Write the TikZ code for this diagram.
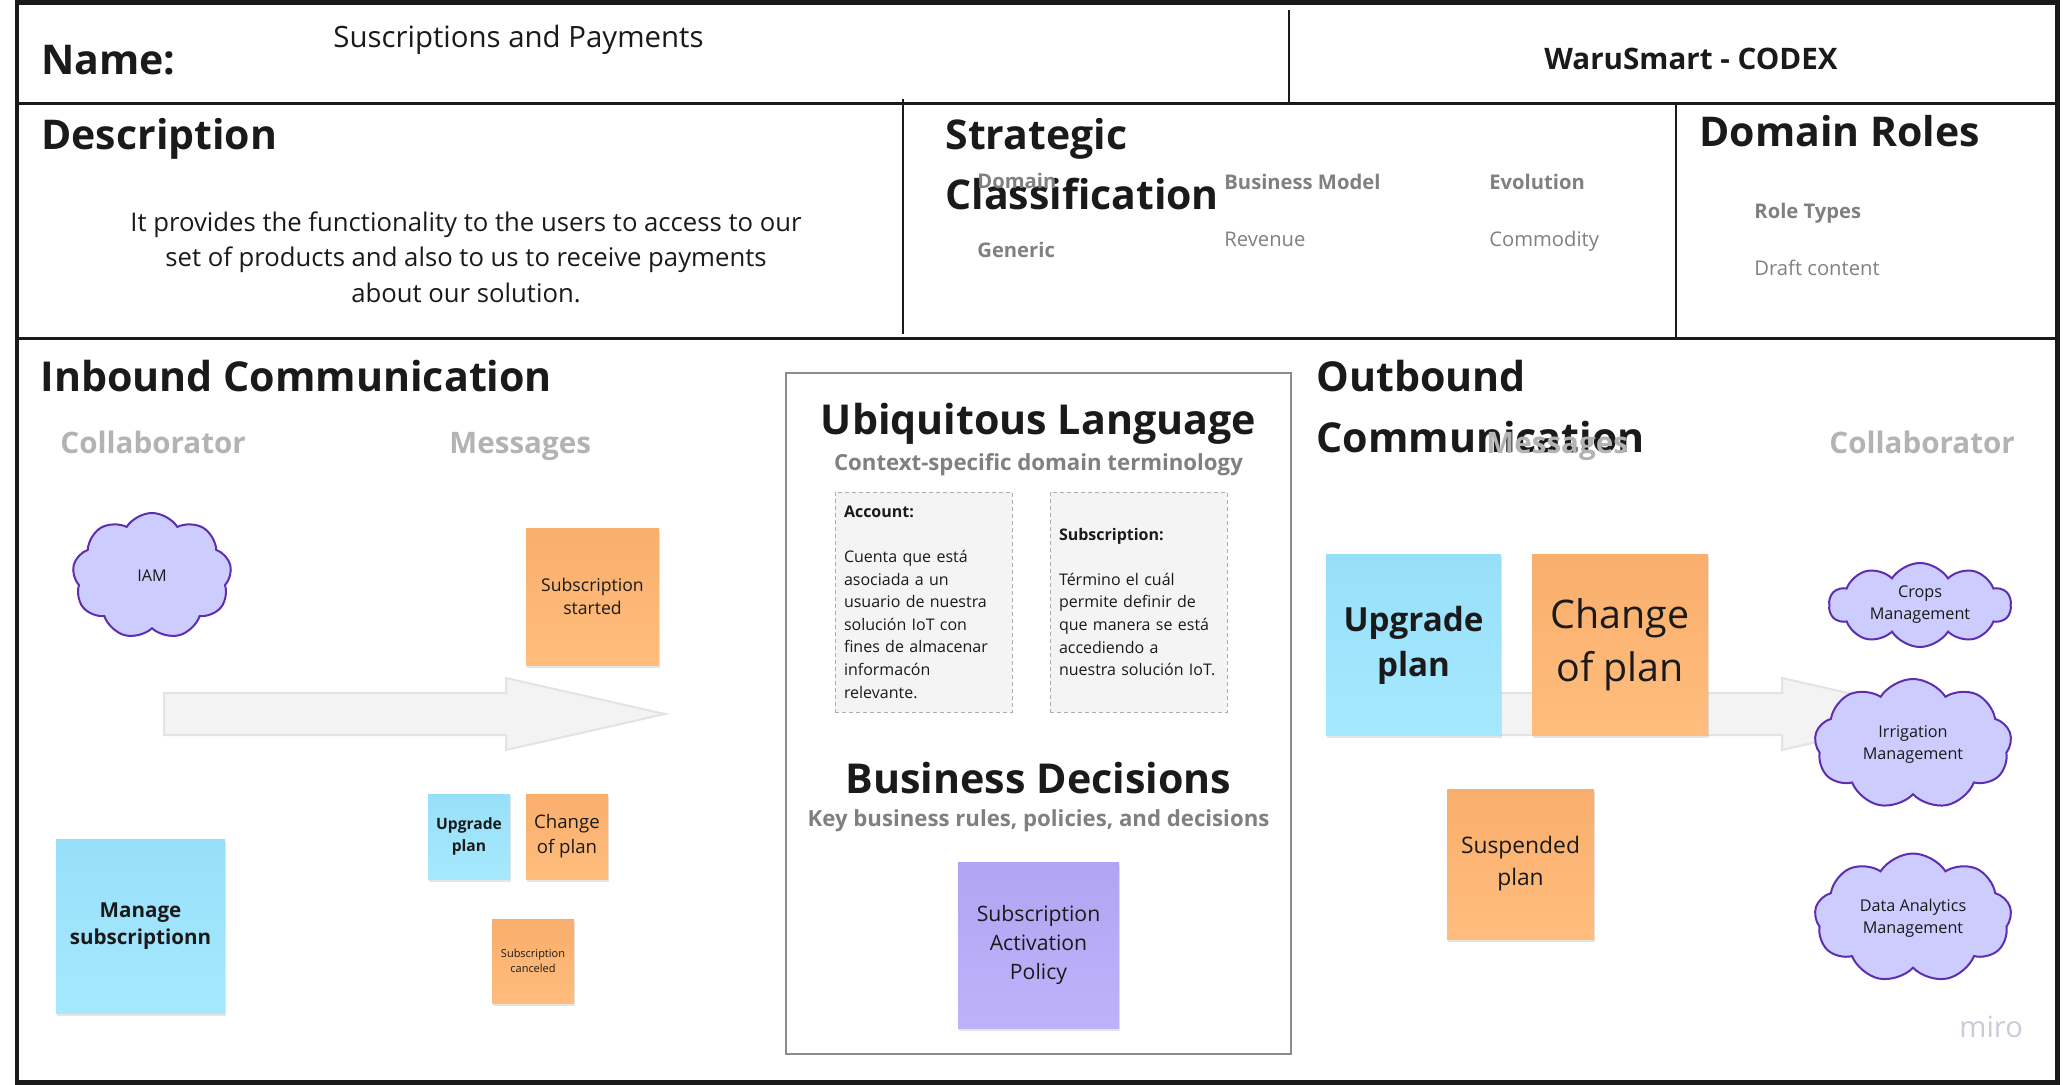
\documentclass[tikz,border=0pt]{standalone}
\usepackage{fontspec}
\setmainfont{Open Sans}
\usepackage{xcolor}
\usetikzlibrary{shapes.symbols, positioning, shadows}

\definecolor{inkdark}{HTML}{1A1A1A}
\definecolor{labelgrey}{HTML}{808080}
\definecolor{softgrey}{HTML}{B3B3B3}
\definecolor{boxgrey}{HTML}{8C8C8C}
\definecolor{orangetop}{HTML}{F9AE6C}
\definecolor{orangebot}{HTML}{FFBD7D}
\definecolor{bluetop}{HTML}{97DFF9}
\definecolor{bluebot}{HTML}{A6E9FE}
\definecolor{purpletop}{HTML}{B1A4F2}
\definecolor{purplebot}{HTML}{BDB3FA}
\definecolor{cloudfill}{HTML}{CCCCFF}
\definecolor{cloudline}{HTML}{5E2EB1}
\definecolor{arrowfill}{HTML}{F3F3F3}
\definecolor{arrowline}{HTML}{E3E3E3}
\definecolor{termfill}{HTML}{F4F4F4}
\definecolor{termline}{HTML}{ADADAD}
\definecolor{mirogrey}{HTML}{CBCAD6}

\newcommand{\fsz}[2]{\fontsize{#1}{#2}\selectfont}

\begin{document}
\begin{tikzpicture}[x=0.5pt, y=-0.5pt,
        every node/.style={inner sep=0pt, text=inkdark},
        heading/.style={font=\bfseries\fsz{20.5pt}{24pt}},
        bigheading/.style={font=\bfseries\fsz{20.6pt}{25pt}},
        smallbold/.style={font=\bfseries\fsz{10.1pt}{12pt}, text=labelgrey},
        smallreg/.style={font=\fsz{10.1pt}{12pt}, text=labelgrey},
        column/.style={font=\bfseries\fsz{14.8pt}{18pt}, text=softgrey},
        subtitle/.style={font=\bfseries\fsz{11.1pt}{13pt}, text=labelgrey},
        sticky/.style={rectangle, align=center, drop shadow={shadow xshift=0.4pt, shadow yshift=-1.4pt, fill=black, opacity=0.10}},
        orangenote/.style={sticky, top color=orangetop, bottom color=orangebot},
        bluenote/.style={sticky, top color=bluetop, bottom color=bluebot},
        purplenote/.style={sticky, top color=purpletop, bottom color=purplebot},
        collab/.style={cloud, cloud puffs=9, cloud puff arc=115, cloud ignores aspect, draw=cloudline, fill=cloudfill, line width=1pt, align=center, font=\fsz{8.1pt}{11pt}},
        termbox/.style={draw=termline, dash pattern=on 2pt off 1.5pt, line width=0.5pt, fill=termfill, minimum width=88.5pt, minimum height=110pt, text width=79.5pt, inner xsep=4.5pt, align=left, font=\fsz{8pt}{11.3pt}},
        bigarrow/.style={fill=arrowfill, draw=arrowline, line width=1pt},
        rule/.style={draw=inkdark, line width=1.5pt}
    ]
        \useasboundingbox (0,0) rectangle (2072,1085);

        % canvas frame
        \draw[rule, line width=2.2pt] (17,2.5) rectangle (2057.5,1082.5);
        \draw[rule] (17,104) -- (2057.5,104);
        \draw[rule] (17,339) -- (2057.5,339);
        \draw[rule, line width=1.1pt] (1289,10) -- (1289,104);
        \draw[rule, line width=1.1pt] (903,99) -- (903,334);
        \draw[rule, line width=1.1pt] (1676,102) -- (1676,339);

        % name row
        \node[heading, anchor=base west] (namelbl) at (41,75) {Name:};
        \node[anchor=base west, font=\fsz{14.7pt}{18pt}] (ctxname) at (333,48) {Suscriptions and Payments};
        \node[anchor=base, font=\bfseries\fsz{14.8pt}{17pt}] (project) at (1691,70) {WaruSmart - CODEX};

        % description
        \node[heading, anchor=base west] (desclbl) at (41,150) {Description};
        \node[align=center, font=\fsz{12.85pt}{17.75pt}] (desctext) at (466,257)
            {It provides the functionality to the users to access to our\\set of products and also to us to receive payments\\about our solution.};

        % strategic classification
        \node[heading, anchor=base west] (stratlbl) at (945,150) {Strategic};
        \node[heading, anchor=base west] (classlbl) at (945,210) {Classification};
        \node[smallbold, anchor=base west] (domainlbl) at (977,189) {Domain};
        \node[smallbold, anchor=base west] (genericval) at (977,258) {Generic};
        \node[smallbold, anchor=base west] (bizlbl) at (1224,190) {Business Model};
        \node[smallreg, anchor=base west] (revenueval) at (1224,247) {Revenue};
        \node[smallbold, anchor=base west] (evollbl) at (1489,190) {Evolution};
        \node[smallreg, anchor=base west] (commodityval) at (1489,247) {Commodity};

        % domain roles
        \node[heading, anchor=base west] (roleslbl) at (1699,147) {Domain Roles};
        \node[smallbold, anchor=base west] (roletypes) at (1754,219) {Role Types};
        \node[smallreg, anchor=base west] (draftval) at (1754,276) {Draft content};

        % flow arrows
        \draw[bigarrow] (164,693) -- (506,693) -- (506,678) -- (665,714) -- (506,750) -- (506,735) -- (164,735) -- cycle;
        \draw[bigarrow] (1440,693) -- (1782,693) -- (1782,678) -- (1941,714) -- (1782,750) -- (1782,735) -- (1440,735) -- cycle;

        % inbound communication
        \node[bigheading, anchor=base west] (inboundlbl) at (40,392) {Inbound Communication};
        \node[column, anchor=base west] (incollab) at (60,453) {Collaborator};
        \node[column, anchor=base west] (inmsgs) at (449,453) {Messages};
        \node[collab, minimum width=79.5pt, minimum height=63pt] (iam) at (152,576) {IAM};
        \node[orangenote, minimum width=66.5pt, minimum height=68.5pt, font=\fsz{8.8pt}{11.7pt}] (substarted) at (592.5,596.5) {Subscription\\started};
        \node[bluenote, minimum width=41pt, minimum height=42.5pt, font=\bfseries\fsz{7.8pt}{10.6pt}] (upgradein) at (469,836.5) {Upgrade\\plan};
        \node[orangenote, minimum width=41pt, minimum height=42.5pt, font=\fsz{9.3pt}{12.5pt}] (changein) at (567,836.5) {Change\\of plan};
        \node[orangenote, minimum width=41pt, minimum height=42pt, font=\fsz{5.5pt}{7.5pt}] (subcanceled) at (533,961) {Subscription\\canceled};
        \node[bluenote, minimum width=84.5pt, minimum height=87pt, font=\bfseries\fsz{10.3pt}{13.7pt}] (managesub) at (140.5,926) {Manage\\subscriptionn};

        % ubiquitous language and business decisions
        \node[draw=boxgrey, line width=1.1pt, minimum width=252.5pt, minimum height=340.5pt] (ulbox) at (1038.5,713.5) {};
        \node[bigheading, anchor=base] (ullbl) at (1038.5,435) {Ubiquitous Language};
        \node[subtitle, anchor=base] (ulsub) at (1038.5,471) {Context-specific domain terminology};
        \node[termbox] (accountdef) at (923.5,602)
            {\textbf{Account:}\\[11.3pt]Cuenta que está\\asociada a un\\usuario de nuestra\\solución IoT con\\fines de almacenar\\informacón\\relevante.};
        \node[termbox] (subscriptiondef) at (1138.5,602)
            {\textbf{Subscription:}\\[11.3pt]Término el cuál\\permite definir de\\que manera se está\\accediendo a\\nuestra solución IoT.};
        \node[bigheading, anchor=base] (bdlbl) at (1038.5,793) {Business Decisions};
        \node[subtitle, anchor=base] (bdsub) at (1038.5,826) {Key business rules, policies, and decisions};
        \node[purplenote, minimum width=80.5pt, minimum height=83pt, font=\fsz{10.6pt}{14.5pt}] (actpolicy) at (1038.5,945) {Subscription\\Activation\\Policy};

        % outbound communication
        \node[bigheading, anchor=base west] (outboundlbl) at (1316,392) {Outbound};
        \node[bigheading, anchor=base west] (commlbl) at (1316,452) {Communication};
        \node[column, anchor=base west] (outmsgs) at (1486,453) {Messages};
        \node[column, anchor=base west] (outcollab) at (1829,453) {Collaborator};
        \node[bluenote, minimum width=87.5pt, minimum height=90.5pt, font=\bfseries\fsz{16.6pt}{22.5pt}] (upgradeout) at (1413.5,645) {Upgrade\\plan};
        \node[orangenote, minimum width=88pt, minimum height=90.5pt, font=\fsz{19.7pt}{26.5pt}] (changeout) at (1620,645) {Change\\of plan};
        \node[orangenote, minimum width=73.5pt, minimum height=75pt, font=\fsz{11.4pt}{16pt}] (suspended) at (1520.5,864) {Suspended\\plan};
        \node[collab, minimum width=91pt, minimum height=42pt, cloud puffs=10] (crops) at (1920,605) {Crops\\Management};
        \node[collab, minimum width=98.5pt, minimum height=65pt] (irrigation) at (1913,744) {Irrigation\\Management};
        \node[collab, minimum width=98.5pt, minimum height=64.5pt] (analytics) at (1913,918) {Data Analytics\\Management};

        \node[anchor=base west, font=\fsz{14.6pt}{16pt}, text=mirogrey] (mirologo) at (1959,1037) {miro};
    \end{tikzpicture}
\end{document}
